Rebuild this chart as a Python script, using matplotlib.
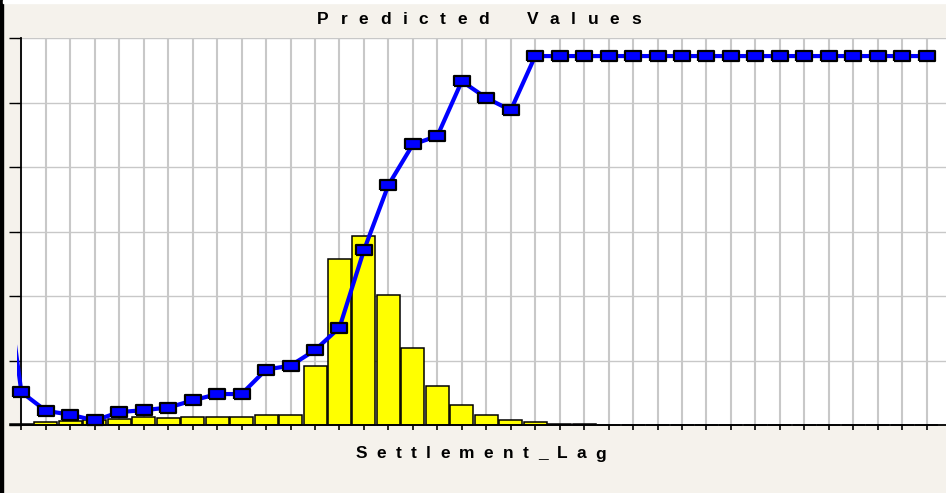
import matplotlib
matplotlib.use("Agg")
import matplotlib.pyplot as plt
from matplotlib.patches import Rectangle

# data (one gridline step = 1 unit)
lag_idx = list(range(38))
bar_vals = [0.02, 0.04, 0.06, 0.08, 0.10, 0.12, 0.11, 0.12, 0.13, 0.12, 0.15, 0.15,
            0.91, 2.57, 2.93, 2.02, 1.20, 0.61, 0.31, 0.15, 0.08, 0.04, 0.02, 0.015,
            0.005, 0, 0, 0, 0, 0, 0, 0, 0, 0, 0, 0, 0, 0]
pred_vals = [0.51, 0.22, 0.16, 0.07, 0.20, 0.23, 0.27, 0.38, 0.48, 0.48, 0.86, 0.92,
             1.16, 1.51, 2.71, 3.72, 4.35, 4.48, 5.33, 5.07, 4.88] + [5.72] * 17
lead_val = 3.3  # the line comes in from a point left of the first lag
title = "Predicted Values"
xlabel = "Settlement_Lag"

W, H = 946, 493
bg = "#F5F2EC"
fig = plt.figure(figsize=(W / 100, H / 100), dpi=100, facecolor=bg)

# left border and thin white top strip
fig.patches.append(Rectangle((0, 0), 3 / W, 1, transform=fig.transFigure, color="black", zorder=0))
fig.patches.append(Rectangle((3 / W, 1 - 3 / H), 1, 3 / H, transform=fig.transFigure, color="white", zorder=0))

ax = fig.add_axes([17 / W, (H - 425) / H, (W - 17) / W, 387 / H])
ax.set_xlim(-0.18, 37.79)
ax.set_ylim(0, 6)
ax.axvspan(-0.18, 0, color=bg, zorder=0, lw=0)

ax.set_xticks(lag_idx)
ax.set_yticks(range(7))
ax.set_xticklabels([])
ax.set_yticklabels([])
ax.grid(axis="x", color="#C8C8C8", lw=1.5, zorder=0.5)
ax.grid(axis="y", color="#C8C8C8", lw=1.0, zorder=0.5)
for s in ["top", "right"]:
    ax.spines[s].set_visible(False)
ax.spines["left"].set_position(("data", 0))
ax.spines["left"].set_linewidth(1.3)
ax.spines["bottom"].set_linewidth(1.3)
ax.tick_params(axis="y", length=8.6, width=1, direction="out")
ax.tick_params(axis="x", length=3.6, width=1.2, direction="out")

ax.bar(lag_idx, bar_vals, width=0.94, color="#FFFF00", edgecolor="black", lw=1.1,
       zorder=2, clip_on=False)

rect = [(-1, -0.6), (1, -0.6), (1, 0.6), (-1, 0.6), (-1, -0.6)]
ax.plot([-1] + lag_idx, [lead_val] + pred_vals, color="#0000FF", lw=3, zorder=3)
ax.plot(lag_idx, pred_vals, ls="none", marker=rect, ms=11, mfc="#0000FF", mec="black",
        mew=1.6, zorder=4, clip_on=False)


def spaced(s, xc, yc, fs, gap, word_gap):
    r = fig.canvas.get_renderer()
    kw = dict(fontsize=fs, fontweight="bold", family=["Liberation Sans", "DejaVu Sans"])
    widths = []
    for ch in s:
        if ch == " ":
            widths.append(word_gap)
            continue
        t = fig.text(0, 0, ch, **kw)
        widths.append(t.get_window_extent(r).width)
        t.remove()
    total = sum(widths) + gap * (len(s) - 1)
    x = xc - total / 2
    for ch, w in zip(s, widths):
        if ch != " ":
            fig.text(x / W, 1 - yc / H, ch, ha="left", va="center", **kw)
        x += w + gap


spaced(title, 479, 20, 12.5, 11.6, 14)
spaced(xlabel, 481, 454, 12.5, 9.3, 0)

fig.savefig("out.png", dpi=100, facecolor=bg)
